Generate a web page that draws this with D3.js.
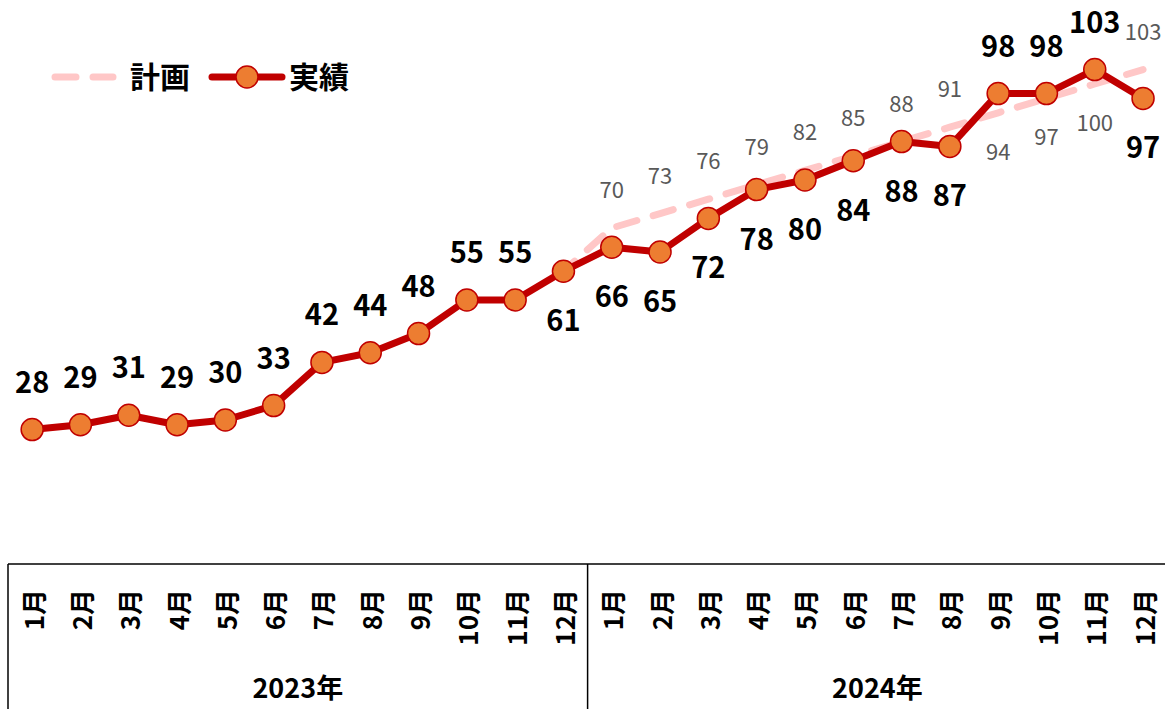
<!DOCTYPE html>
<html lang="ja">
<head>
<meta charset="UTF-8">
<title>計画と実績</title>
<script src="https://cdnjs.cloudflare.com/ajax/libs/d3/7.8.5/d3.min.js"></script>
<style>
  body { margin: 0; background: #fff; font-family: "Noto Sans CJK JP", "Noto Sans", sans-serif; }
  svg { display: block; }
  .actual-label { font-size: 29px; font-weight: bold; fill: #000; text-anchor: middle; }
  .plan-label { font-size: 22px; fill: #595959; text-anchor: middle; }
  .month { font-size: 26px; font-weight: bold; fill: #000; }
  .year { font-size: 27px; font-weight: bold; fill: #000; text-anchor: middle; }
  .legend text { font-size: 30px; font-weight: bold; fill: #000; }
</style>
</head>
<body>
<div id="chart"></div>
<script>
// Data
const years = ["2023年", "2024年"];
const months = ["1月","2月","3月","4月","5月","6月","7月","8月","9月","10月","11月","12月"];
const actual = [28,29,31,29,30,33,42,44,48,55,55,61, 66,65,72,78,80,84,88,87,98,98,103,97];
// plan starts from the last 2023 result
const planStart = 61;
const plan2024 = [70,73,76,79,82,85,88,91,94,97,100,103];
// label side: 1 = above, -1 = below
const actualSide = [1,1,1,1,1,1,1,1,1,1,1,-1, -1,-1,-1,-1,-1,-1,-1,-1,1,1,1,-1];
const planSide = [1,1,1,1,1,1,1,1,-1,-1,-1,1];

const width = 1165, height = 709;
const axisTop = 564;

const svg = d3.select("#chart").append("svg")
  .attr("width", width).attr("height", height);

const cats = [];
years.forEach(y => months.forEach(m => cats.push(y + m)));

const x = d3.scaleBand().domain(cats).range([8, 8 + 48.3 * 24]);
const cx = i => x(cats[i]) + x.bandwidth() / 2;
const y = d3.scaleLinear().domain([0, 110]).range([axisTop, axisTop - 4.8 * 110]);

const red = "#C00000", orange = "#ED7D31", pink = "#FFC7C7";

// plan line (dashed)
const planPts = [{i: 11, v: planStart}].concat(plan2024.map((v, k) => ({i: 12 + k, v})));
svg.append("path")
  .datum(planPts)
  .attr("fill", "none")
  .attr("stroke", pink)
  .attr("stroke-width", 7)
  .attr("stroke-linecap", "round")
  .attr("stroke-dasharray", "21,17")
  .attr("stroke-dashoffset", 6)
  .attr("d", d3.line().x(d => cx(d.i)).y(d => y(d.v)));

// actual line
svg.append("path")
  .datum(actual)
  .attr("fill", "none")
  .attr("stroke", red)
  .attr("stroke-width", 7)
  .attr("stroke-linejoin", "round")
  .attr("d", d3.line().x((d, i) => cx(i)).y(d => y(d)));

svg.selectAll("circle.pt")
  .data(actual)
  .join("circle")
  .attr("class", "pt")
  .attr("cx", (d, i) => cx(i))
  .attr("cy", d => y(d))
  .attr("r", 11)
  .attr("fill", orange)
  .attr("stroke", red)
  .attr("stroke-width", 1.5);

// plan labels
svg.selectAll("text.plan-label")
  .data(plan2024)
  .join("text")
  .attr("class", "plan-label")
  .attr("x", (d, k) => cx(12 + k))
  .attr("y", (d, k) => y(d) + (planSide[k] > 0 ? -30 : 47))
  .text(d => d);

// actual labels
svg.selectAll("text.actual-label")
  .data(actual)
  .join("text")
  .attr("class", "actual-label")
  .attr("x", (d, i) => cx(i))
  .attr("y", (d, i) => y(d) + (actualSide[i] > 0 ? -37 : 60))
  .text(d => d);

// category axis box
const axis = svg.append("g").attr("stroke", "#000").attr("stroke-width", 1.5);
axis.append("line").attr("x1", 8).attr("x2", width).attr("y1", axisTop).attr("y2", axisTop);
axis.append("line").attr("x1", 8).attr("x2", 8).attr("y1", axisTop).attr("y2", height);
axis.append("line")
  .attr("x1", x(cats[12])).attr("x2", x(cats[12]))
  .attr("y1", axisTop).attr("y2", height);

svg.selectAll("text.month")
  .data(cats)
  .join("text")
  .attr("class", "month")
  .attr("text-anchor", "end")
  .attr("dominant-baseline", "central")
  .attr("transform", (d, i) => `translate(${cx(i)},${axisTop + 25}) rotate(-90)`)
  .text((d, i) => months[i % 12]);

svg.selectAll("text.year")
  .data(years)
  .join("text")
  .attr("class", "year")
  .attr("x", (d, j) => (x(cats[j * 12]) + x(cats[j * 12 + 11]) + x.bandwidth()) / 2)
  .attr("y", 698)
  .text(d => d);

// legend
const lg = svg.append("g").attr("class", "legend");
lg.append("line")
  .attr("x1", 55).attr("x2", 113).attr("y1", 77).attr("y2", 77)
  .attr("stroke", pink).attr("stroke-width", 7)
  .attr("stroke-linecap", "round").attr("stroke-dasharray", "21,17");
lg.append("text").attr("x", 130).attr("y", 88).text("計画");
lg.append("line")
  .attr("x1", 212).attr("x2", 282).attr("y1", 77).attr("y2", 77)
  .attr("stroke", red).attr("stroke-width", 7).attr("stroke-linecap", "round");
lg.append("circle")
  .attr("cx", 247).attr("cy", 77).attr("r", 11)
  .attr("fill", orange).attr("stroke", red).attr("stroke-width", 1.5);
lg.append("text").attr("x", 289).attr("y", 88).text("実績");
</script>
</body>
</html>
